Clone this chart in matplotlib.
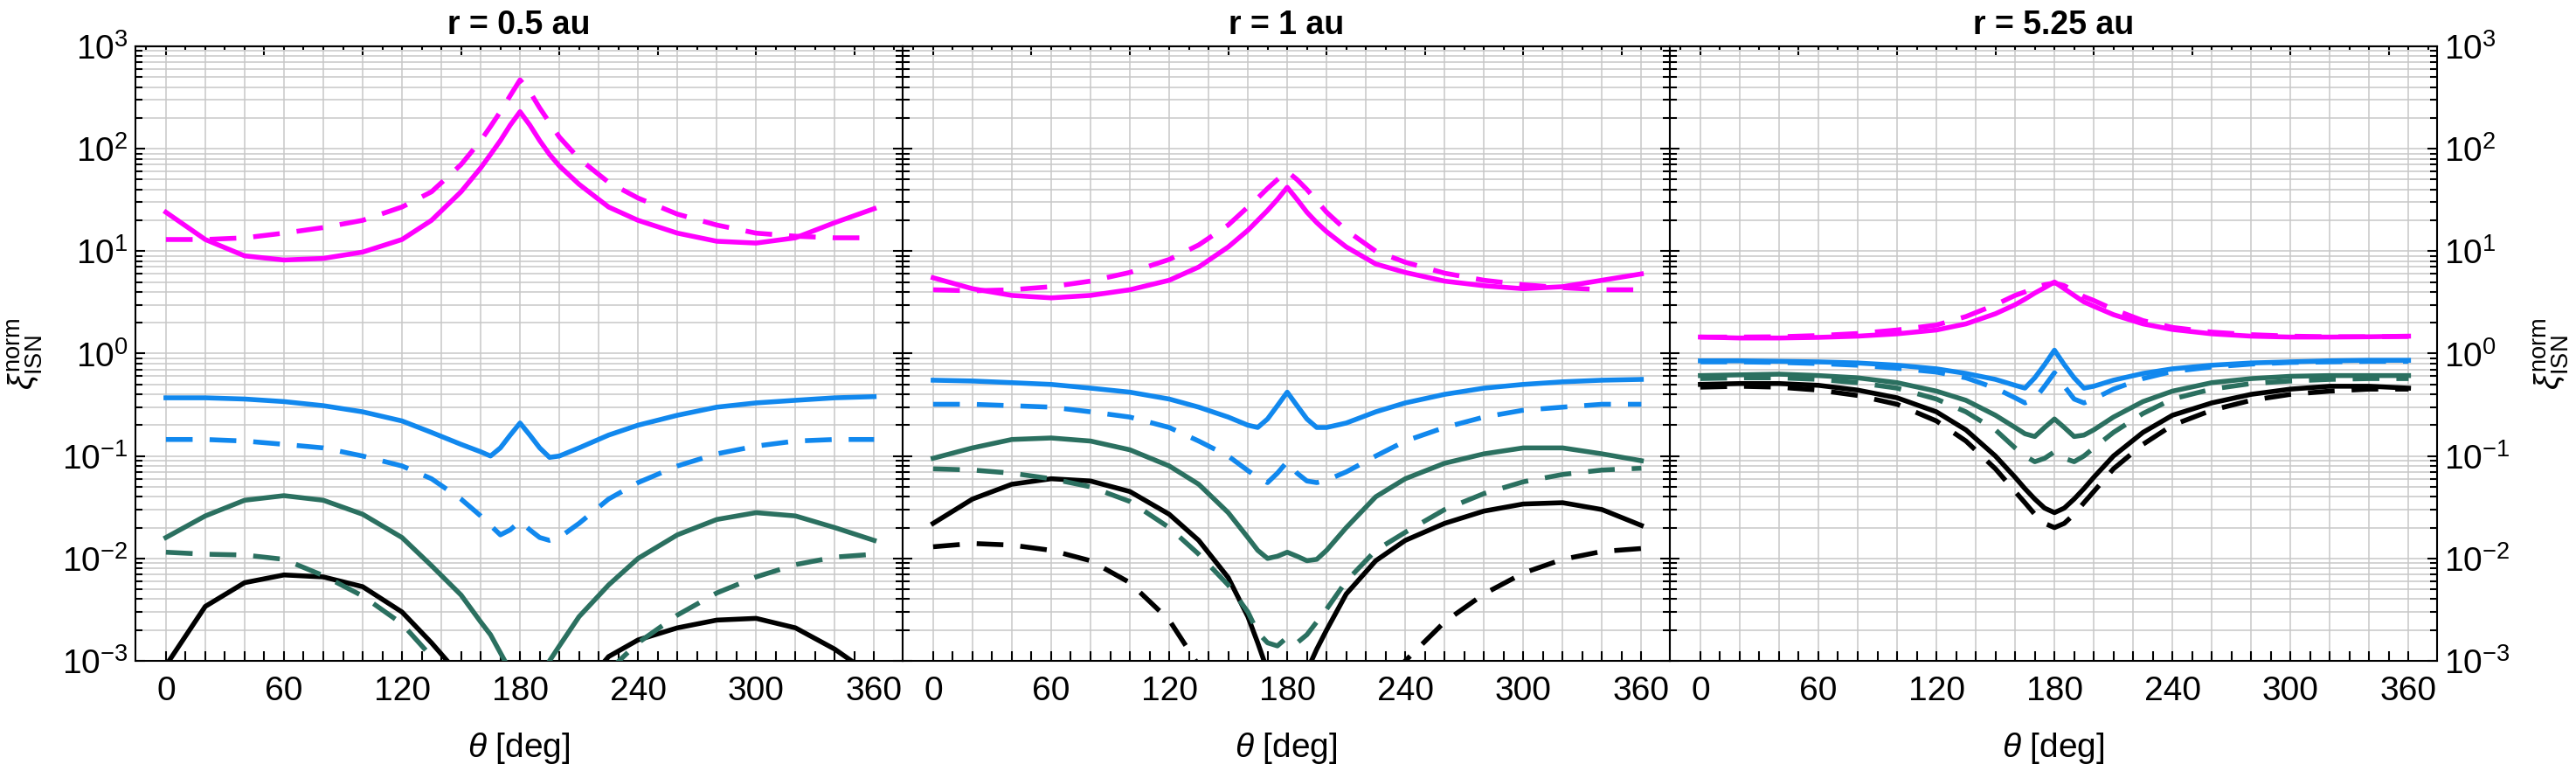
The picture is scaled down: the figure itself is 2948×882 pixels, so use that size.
import matplotlib.pyplot as plt
from matplotlib.ticker import LogLocator, NullFormatter, FixedLocator

plt.rcParams['font.family'] = 'Liberation Sans'
plt.rcParams['mathtext.fontset'] = 'custom'
plt.rcParams['mathtext.rm'] = 'Liberation Sans'
plt.rcParams['mathtext.it'] = 'Liberation Sans:italic'
plt.rcParams['mathtext.bf'] = 'Liberation Sans:bold'

theta = [0, 20, 40, 60, 80, 100, 120, 135, 150, 160, 165, 170, 175, 180,
         185, 190, 195, 200, 210, 225, 240, 260, 280, 300, 320, 340, 360]

titles = ["r = 0.5 au", "r = 1 au", "r = 5.25 au"]

# r = 0.5 au
r05_mag_s = [24, 13, 9, 8.2, 8.5, 9.8, 13, 20, 38, 65, 88, 120, 170, 230,
             170, 120, 88, 68, 45, 27, 20, 15, 12.5, 12, 13.5, 19, 26]
r05_mag_d = [13, 13, 13.5, 15, 17, 20, 27, 38, 70, 120, 165, 230, 330, 470,
             360, 250, 180, 130, 80, 47, 33, 23, 18, 15, 14, 13.5, 13.5]
r05_blu_s = [0.37, 0.37, 0.36, 0.34, 0.31, 0.27, 0.22, 0.17, 0.13, 0.11, 0.10, 0.12, 0.16, 0.21,
             0.16, 0.12, 0.097, 0.10, 0.12, 0.16, 0.20, 0.25, 0.30, 0.33, 0.35, 0.37, 0.38]
r05_blu_d = [0.145, 0.145, 0.14, 0.13, 0.12, 0.10, 0.08, 0.06, 0.038, 0.026, 0.021, 0.017, 0.019, 0.023,
             0.019, 0.016, 0.015, 0.016, 0.022, 0.038, 0.055, 0.08, 0.105, 0.125, 0.14, 0.145, 0.145]
r05_tea_s = [0.016, 0.026, 0.037, 0.041, 0.037, 0.027, 0.016, 0.0085, 0.0044, 0.0024, 0.0018, 0.0012, 0.0008, 0.0006,
             0.0006, 0.0007, 0.001, 0.0014, 0.0027, 0.0055, 0.01, 0.017, 0.024, 0.028, 0.026, 0.02, 0.015]
r05_tea_d = [0.0115, 0.011, 0.0108, 0.0098, 0.0068, 0.0043, 0.0023, 0.0011, 0.0005, 0.0003, 0.0003, 0.0003, 0.0003, 0.0003,
             0.0003, 0.0003, 0.0003, 0.0003, 0.0003, 0.0008, 0.0015, 0.0028, 0.0046, 0.0066, 0.0087, 0.0103, 0.011]
r05_blk_s = [0.0009, 0.0034, 0.0058, 0.0069, 0.0066, 0.0053, 0.003, 0.0015, 0.0007, 0.0003, 0.0003, 0.0003, 0.0003, 0.0003,
             0.0003, 0.0003, 0.0003, 0.0003, 0.0005, 0.0011, 0.0016, 0.0021, 0.0025, 0.0026, 0.0021, 0.0013, 0.0007]

# r = 1 au
r1_mag_s = [5.5, 4.3, 3.7, 3.5, 3.7, 4.2, 5.2, 7, 11, 16, 20, 25, 32, 42,
            32, 24, 19, 15.5, 11, 7.5, 6.2, 5.1, 4.6, 4.3, 4.5, 5.2, 6]
r1_mag_d = [4.2, 4.1, 4.2, 4.5, 5.1, 6.2, 8.3, 11.5, 18, 27, 33, 41, 50, 60,
            50, 40, 31, 24, 16, 10, 7.8, 6.1, 5.2, 4.7, 4.4, 4.2, 4.2]
r1_blu_s = [0.55, 0.54, 0.52, 0.50, 0.46, 0.42, 0.36, 0.30, 0.24, 0.20, 0.19, 0.23, 0.31, 0.42,
            0.31, 0.23, 0.19, 0.19, 0.21, 0.27, 0.33, 0.40, 0.46, 0.50, 0.53, 0.55, 0.56]
r1_blu_d = [0.32, 0.32, 0.31, 0.30, 0.27, 0.24, 0.19, 0.14, 0.10, 0.072, 0.062, 0.055, 0.068, 0.088,
            0.068, 0.057, 0.055, 0.058, 0.07, 0.10, 0.14, 0.19, 0.24, 0.28, 0.30, 0.32, 0.32]
r1_tea_s = [0.095, 0.12, 0.145, 0.15, 0.14, 0.115, 0.08, 0.053, 0.028, 0.016, 0.012, 0.010, 0.0105, 0.0115,
            0.0105, 0.0095, 0.0098, 0.012, 0.02, 0.04, 0.06, 0.085, 0.105, 0.12, 0.12, 0.105, 0.09]
r1_tea_d = [0.075, 0.073, 0.068, 0.06, 0.05, 0.036, 0.02, 0.011, 0.0055, 0.003, 0.0019, 0.0015, 0.0014, 0.0017,
            0.0015, 0.0018, 0.0024, 0.0032, 0.006, 0.012, 0.018, 0.03, 0.043, 0.056, 0.066, 0.073, 0.076]
r1_blk_s = [0.022, 0.038, 0.053, 0.06, 0.057, 0.045, 0.027, 0.015, 0.0065, 0.0027, 0.0015, 0.0008, 0.0005, 0.0004,
            0.0005, 0.0008, 0.0013, 0.002, 0.0045, 0.0095, 0.015, 0.022, 0.029, 0.034, 0.035, 0.03, 0.021]
r1_blk_d = [0.013, 0.014, 0.0135, 0.012, 0.0095, 0.0058, 0.0025, 0.0009, 0.0003, 0.0002, 0.0002, 0.0002, 0.0002, 0.0002,
            0.0002, 0.0002, 0.0002, 0.0002, 0.0002, 0.0005, 0.001, 0.0024, 0.0045, 0.0072, 0.0098, 0.0117, 0.0125]

# r = 5.25 au
r5_mag_s = [1.45, 1.42, 1.42, 1.44, 1.48, 1.56, 1.7, 1.95, 2.45, 3.0, 3.4, 3.9, 4.4, 5.0,
            4.3, 3.7, 3.2, 2.9, 2.4, 1.95, 1.72, 1.56, 1.48, 1.45, 1.45, 1.46, 1.48]
r5_mag_d = [1.45, 1.45, 1.46, 1.5, 1.57, 1.7, 1.9, 2.3, 3.0, 3.7, 4.0, 4.4, 4.7, 4.9,
            4.6, 4.1, 3.6, 3.3, 2.7, 2.1, 1.8, 1.62, 1.53, 1.48, 1.46, 1.46, 1.47]
r5_blu_s = [0.85, 0.85, 0.84, 0.83, 0.81, 0.77, 0.71, 0.64, 0.56, 0.49, 0.46, 0.58, 0.78, 1.08,
            0.78, 0.58, 0.46, 0.48, 0.55, 0.64, 0.71, 0.77, 0.81, 0.83, 0.85, 0.86, 0.86]
r5_blu_d = [0.83, 0.83, 0.82, 0.80, 0.77, 0.72, 0.66, 0.58, 0.46, 0.37, 0.33, 0.36, 0.48, 0.65,
            0.48, 0.36, 0.33, 0.36, 0.45, 0.57, 0.67, 0.74, 0.79, 0.82, 0.83, 0.84, 0.84]
r5_tea_s = [0.61, 0.62, 0.63, 0.61, 0.58, 0.52, 0.43, 0.35, 0.25, 0.19, 0.165, 0.155, 0.19, 0.23,
            0.19, 0.155, 0.16, 0.18, 0.24, 0.34, 0.43, 0.52, 0.57, 0.60, 0.61, 0.61, 0.61]
r5_tea_d = [0.57, 0.58, 0.58, 0.56, 0.52, 0.46, 0.36, 0.27, 0.18, 0.12, 0.10, 0.088, 0.095, 0.11,
            0.095, 0.088, 0.10, 0.12, 0.17, 0.26, 0.36, 0.45, 0.51, 0.54, 0.56, 0.57, 0.57]
r5_blk_s = [0.50, 0.51, 0.51, 0.49, 0.44, 0.37, 0.27, 0.18, 0.10, 0.062, 0.048, 0.038, 0.031, 0.028,
            0.031, 0.038, 0.048, 0.062, 0.10, 0.17, 0.25, 0.33, 0.40, 0.45, 0.48, 0.48, 0.46]
r5_blk_d = [0.47, 0.48, 0.47, 0.44, 0.39, 0.32, 0.22, 0.14, 0.075, 0.045, 0.035, 0.027, 0.022, 0.020,
            0.022, 0.027, 0.035, 0.045, 0.075, 0.13, 0.20, 0.28, 0.35, 0.40, 0.43, 0.45, 0.45]

MAG = '#FF00FF'
BLU = '#1188EE'
TEA = '#2B7060'
BLK = '#000000'
GRID = '#C8C8C8'
DASH = (0, (5.5, 3.5))

panels = [
    [(r05_blk_s, BLK, '-'), (r05_tea_d, TEA, DASH), (r05_tea_s, TEA, '-'),
     (r05_blu_d, BLU, DASH), (r05_blu_s, BLU, '-'), (r05_mag_d, MAG, DASH), (r05_mag_s, MAG, '-')],
    [(r1_blk_d, BLK, DASH), (r1_blk_s, BLK, '-'), (r1_tea_d, TEA, DASH), (r1_tea_s, TEA, '-'),
     (r1_blu_d, BLU, DASH), (r1_blu_s, BLU, '-'), (r1_mag_d, MAG, DASH), (r1_mag_s, MAG, '-')],
    [(r5_blk_d, BLK, DASH), (r5_blk_s, BLK, '-'), (r5_tea_d, TEA, DASH), (r5_tea_s, TEA, '-'),
     (r5_blu_d, BLU, DASH), (r5_blu_s, BLU, '-'), (r5_mag_d, MAG, DASH), (r5_mag_s, MAG, '-')],
]

fig, axes = plt.subplots(1, 3, figsize=(29.48, 8.82), dpi=100)
fig.subplots_adjust(left=155 / 2948, right=2789 / 2948, bottom=1 - 756 / 882,
                    top=1 - 53 / 882, wspace=0)

ylab = r'$\xi_{\mathrm{ISN}}^{\mathrm{norm}}$'

for i, ax in enumerate(axes):
    for g in range(0, 361, 20):
        ax.axvline(g, color=GRID, lw=1.1, zorder=0)
    for vals, c, ls in panels[i]:
        ax.plot(theta, vals, color=c, ls=ls, lw=4, zorder=3)

    ax.set_yscale('log')
    ax.set_ylim(1e-3, 1e3)
    ax.set_xlim(-15.5, 374.5)
    ax.yaxis.set_major_locator(LogLocator(base=10, numticks=10))
    ax.yaxis.set_minor_locator(LogLocator(base=10, subs=range(2, 10), numticks=20))
    ax.yaxis.set_minor_formatter(NullFormatter())
    ax.grid(which='both', axis='y', color=GRID, lw=1.1, zorder=0)

    ax.set_xticks(range(0, 361, 60))
    ax.xaxis.set_minor_locator(FixedLocator(range(0, 361, 10)))

    ax.tick_params(axis='both', which='both', direction='in', width=1.5,
                   labelsize=28, top=False, left=True, right=True,
                   labelleft=(i == 0), labelright=(i == 2))
    ax.tick_params(axis='y', which='major', length=8, pad=6)
    ax.tick_params(axis='y', which='minor', length=6)
    ax.tick_params(axis='x', which='both', length=8, pad=12)

    top = ax.secondary_xaxis('top')
    top.set_xticks(range(0, 351, 50))
    top.xaxis.set_minor_locator(FixedLocator(range(-10, 371, 10)))
    top.tick_params(which='both', direction='in', width=1.5, labeltop=False)
    top.tick_params(which='major', length=7)
    top.tick_params(which='minor', length=3)
    top.spines['top'].set_linewidth(1.5)

    for s in ax.spines.values():
        s.set_linewidth(1.5)

    ax.set_title(titles[i], fontsize=27, fontweight='bold', pad=10)
    ax.set_xlabel(r'$\theta$ [deg]', fontsize=28, labelpad=20)

axes[0].set_ylabel(ylab, fontsize=28)
axes[0].yaxis.set_label_coords(-0.118, 0.5)
axes[2].yaxis.set_label_position('right')
axes[2].set_ylabel(ylab, fontsize=28, rotation=90)
axes[2].yaxis.set_label_coords(1.124, 0.5)

fig.savefig('out.png', dpi=100)
